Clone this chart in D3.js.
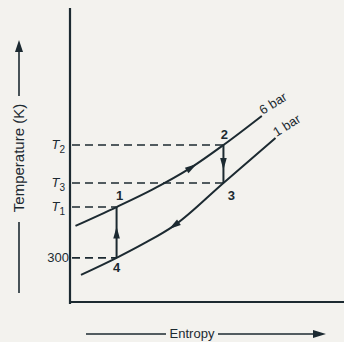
<!DOCTYPE html>
<html>
<head>
<meta charset="utf-8">
<script src="https://cdn.jsdelivr.net/npm/d3@7"></script>
<style>
  body { margin: 0; background: #f3f2ee; }
  svg { display: block; }
  text { font-family: "Liberation Sans", Arial, sans-serif; fill: #1c2a31; }
</style>
</head>
<body>
<div id="chart"></div>
<script>
var width = 344;
var height = 342;
var ink = "#1c2a31";

// entropy / temperature in arbitrary units (0..100)
var curve6bar = [[2, 25.9], [17, 32.3], [30, 38.2], [44, 45.6], [56, 53.4], [70, 63.3]];
var curve1bar = [[4, 9.2], [17, 15.0], [27, 19.9], [38, 26.0], [56, 40.5], [75, 55.8]];
var curveNames = ["6 bar", "1 bar"];
var levelLabels = ["T2", "T3", "T1", "300"];
var levelValues = [53.4, 40.5, 32.3, 15.0];
var levelEnds = [56, 56, 17, 17];
var states = ["1", "2", "3", "4"];
var stateS = [17, 56, 56, 17];
var stateT = [32.3, 53.4, 40.5, 15.0];

var x = d3.scaleLinear().domain([0, 100]).range([70, 344]);
var y = d3.scaleLinear().domain([0, 100]).range([302, 8]);

var svg = d3.select("#chart").append("svg")
  .attr("width", width)
  .attr("height", height);

// axes (plain lines, no ticks)
svg.append("line")
  .attr("x1", x(0)).attr("y1", y(100))
  .attr("x2", x(0)).attr("y2", y(0) + 2)
  .style("stroke", ink).style("stroke-width", 2.2);
svg.append("line")
  .attr("x1", x(0) - 1).attr("y1", y(0))
  .attr("x2", x(100)).attr("y2", y(0))
  .style("stroke", ink).style("stroke-width", 2.2);

// dashed temperature levels
svg.selectAll(".level")
  .data(levelValues)
  .enter()
  .append("line")
  .attr("class", "level")
  .attr("x1", x(0) + 2)
  .attr("x2", function (d, i) { return x(levelEnds[i]); })
  .attr("y1", function (d) { return y(d); })
  .attr("y2", function (d) { return y(d); })
  .style("stroke", ink)
  .style("stroke-width", 1.6)
  .style("stroke-dasharray", "8,5");

// level labels
svg.selectAll(".levelLabel")
  .data(levelLabels)
  .enter()
  .append("text")
  .attr("class", "levelLabel")
  .attr("x", function (d) { return d == "300" ? x(0) - 1 : x(0) - 5; })
  .attr("y", function (d, i) { return y(levelValues[i]) + 4; })
  .attr("text-anchor", "end")
  .style("font-size", "13px")
  .each(function (d) {
    var t = d3.select(this);
    if (d == "300") {
      t.text("300");
    } else {
      t.append("tspan").style("font-style", "italic").text("T");
      t.append("tspan").attr("dy", 4).style("font-size", "10px").text(d.slice(1));
    }
  });

// pressure curves
var line = d3.line()
  .x(function (d) { return x(d[0]); })
  .y(function (d) { return y(d[1]); })
  .curve(d3.curveMonotoneX);

var curves = [curve6bar, curve1bar];
var paths = svg.selectAll(".curve")
  .data(curves)
  .enter()
  .append("path")
  .attr("class", "curve")
  .attr("d", line)
  .style("fill", "none")
  .style("stroke", ink)
  .style("stroke-width", 2);

// curve labels
svg.selectAll(".curveLabel")
  .data(curveNames)
  .enter()
  .append("text")
  .attr("class", "curveLabel")
  .attr("transform", function (d, i) {
    var c = curves[i][curves[i].length - 1];
    return "translate(" + (x(c[0]) + 1) + "," + (y(c[1]) - 1) + ") rotate(-32)";
  })
  .style("font-size", "13px")
  .text(function (d) { return d; });

// vertical processes 4->1 and 2->3
var verticals = [[3, 0], [1, 2]];
svg.selectAll(".vert")
  .data(verticals)
  .enter()
  .append("line")
  .attr("class", "vert")
  .attr("x1", function (d) { return x(stateS[d[0]]); })
  .attr("x2", function (d) { return x(stateS[d[1]]); })
  .attr("y1", function (d) { return y(stateT[d[0]]); })
  .attr("y2", function (d) { return y(stateT[d[1]]); })
  .style("stroke", ink)
  .style("stroke-width", 2);

function arrowHead(px, py, angle, size) {
  svg.append("path")
    .attr("d", "M" + size + ",0L" + (-size) + "," + (-size * 0.55) + "L" + (-size) + "," + (size * 0.55) + "Z")
    .attr("transform", "translate(" + px + "," + py + ") rotate(" + angle + ")")
    .style("fill", ink);
}

verticals.forEach(function (d) {
  var sx = x(stateS[d[0]]);
  var y0 = y(stateT[d[0]]);
  var y1 = y(stateT[d[1]]);
  arrowHead(sx, (y0 + y1) / 2, y1 < y0 ? -90 : 90, 6);
});

// arrows along the curves (6 bar forward, 1 bar backward)
paths.each(function (d, i) {
  var p = this;
  var len = p.getTotalLength();
  var frac = i == 0 ? 0.6 : 0.44;
  var a = p.getPointAtLength(len * frac);
  var b = p.getPointAtLength(len * frac + 1);
  var ang = Math.atan2(b.y - a.y, b.x - a.x) * 180 / Math.PI;
  if (i == 1) ang += 180;
  arrowHead(a.x, a.y, ang, 6);
});

// state labels
var stateOffsets = [[3, -7], [1, -6], [8, 17], [0, 14]];
svg.selectAll(".state")
  .data(states)
  .enter()
  .append("text")
  .attr("class", "state")
  .attr("x", function (d, i) { return x(stateS[i]) + stateOffsets[i][0]; })
  .attr("y", function (d, i) { return y(stateT[i]) + stateOffsets[i][1]; })
  .attr("text-anchor", "middle")
  .style("font-size", "13px")
  .style("font-weight", "bold")
  .text(function (d) { return d; });

// axis titles with arrow lines
var yTitle = svg.append("g").attr("transform", "translate(24,158) rotate(-90)");
yTitle.append("text")
  .attr("text-anchor", "middle")
  .style("font-size", "15px")
  .text("Temperature (K)");
yTitle.append("line")
  .attr("x1", -135).attr("x2", -64).attr("y1", -5).attr("y2", -5)
  .style("stroke", ink).style("stroke-width", 1.6);
yTitle.append("line")
  .attr("x1", 62).attr("x2", 110).attr("y1", -5).attr("y2", -5)
  .style("stroke", ink).style("stroke-width", 1.6);
yTitle.append("path")
  .attr("d", "M118,-5L106,-9L106,-1Z")
  .style("fill", ink);

var xTitle = svg.append("g").attr("transform", "translate(192,338)");
xTitle.append("text")
  .attr("text-anchor", "middle")
  .style("font-size", "13px")
  .text("Entropy");
xTitle.append("line")
  .attr("x1", -106).attr("x2", -26).attr("y1", -4).attr("y2", -4)
  .style("stroke", ink).style("stroke-width", 1.6);
xTitle.append("line")
  .attr("x1", 26).attr("x2", 125).attr("y1", -4).attr("y2", -4)
  .style("stroke", ink).style("stroke-width", 1.6);
xTitle.append("path")
  .attr("d", "M134,-4L121,-8L121,0Z")
  .style("fill", ink);
</script>
</body>
</html>
